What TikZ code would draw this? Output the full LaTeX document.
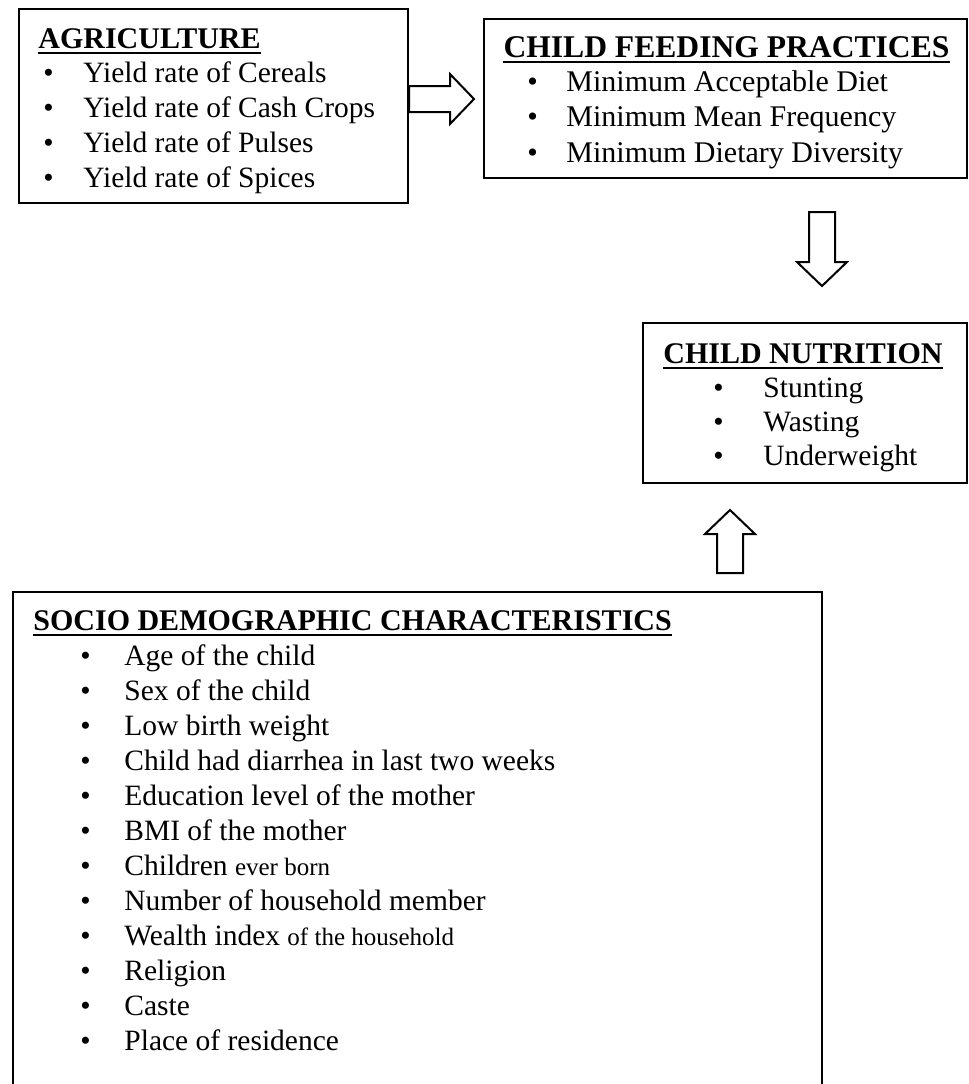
\documentclass[tikz,border=0pt]{standalone}
\usepackage{fontspec}
\setmainfont{Liberation Serif}
\usetikzlibrary{calc,positioning}

\tikzset{
  box/.style={draw, line width=1pt, inner sep=0pt},
  head/.style={inner sep=0pt, anchor=base, font=\fontsize{15}{18}\selectfont\bfseries},
  entry/.style={inner sep=0pt, anchor=base west, font=\fontsize{14.75}{18}\selectfont},
  uline/.style={line width=1pt},
  hollow/.style={draw, line width=1pt, fill=white, line join=miter}
}
\newcommand{\minor}[1]{{\fontsize{12.5}{15}\selectfont #1}}
% hollow block arrow from #1 to #2
\newcommand{\blockarrow}[2]{%
  \coordinate (hb) at ($(#2)!12pt!(#1)$);
  \draw[hollow] ($(#1)!6.5pt!90:(#2)$) -- ($(hb)!6.5pt!90:(#2)$) -- ($(hb)!12.5pt!90:(#2)$)
    -- (#2) -- ($(hb)!12.5pt!-90:(#2)$) -- ($(hb)!6.5pt!-90:(#2)$) -- ($(#1)!6.5pt!-90:(#2)$) -- cycle;
}

\begin{document}
\begin{tikzpicture}[x=0.5pt, y=-0.5pt]
  \useasboundingbox (0,0) rectangle (969,1084);

  % boxes
  \node[box, minimum width=194.5pt, minimum height=97pt] (agri) at (213.5,106) {};
  \node[box, minimum width=241.5pt, minimum height=79.5pt] (feed) at (725.5,98.5) {};
  \node[box, minimum width=162pt, minimum height=80pt] (nutr) at (805,403) {};
  \node[box, minimum width=404.5pt, minimum height=249pt] (socio) at (417.5,841) {};

  % agriculture
  \node[head, anchor=base west] (agrihd) at (38,48) {AGRICULTURE};
  \draw[uline] ([yshift=-2.5pt]agrihd.base west) -- ([yshift=-2.5pt]agrihd.base east);
  \foreach \t [count=\i] in {Yield rate of Cereals, Yield rate of Cash Crops, Yield rate of Pulses, Yield rate of Spices} {
    \node[entry] (agridot\i) at (43,47+35*\i) {\textbullet};
    \node[entry] (agri\i) at (83,47+35*\i) {\t};
  }

  % child feeding practices
  \node[head, font=\fontsize{15.8}{19}\selectfont\bfseries] (feedhd) at (726.5,57) {CHILD FEEDING PRACTICES};
  \draw[uline] ([yshift=-2.5pt]feedhd.base west) -- ([yshift=-2.5pt]feedhd.base east);
  \foreach \t [count=\i] in {Minimum Acceptable Diet, Minimum Mean Frequency, Minimum Dietary Diversity} {
    \node[entry, font=\fontsize{15}{18}\selectfont] (feeddot\i) at (527,55.5+35.5*\i) {\textbullet};
    \node[entry, font=\fontsize{15}{18}\selectfont] (feed\i) at (566,55.5+35.5*\i) {\t};
  }

  % child nutrition
  \node[head] (nutrhd) at (803,363) {CHILD NUTRITION};
  \draw[uline] ([yshift=-2.5pt]nutrhd.base west) -- ([yshift=-2.5pt]nutrhd.base east);
  \foreach \t [count=\i] in {Stunting, Wasting, Underweight} {
    \node[entry] (nutrdot\i) at (713,363+34*\i) {\textbullet};
    \node[entry] (nutr\i) at (763,363+34*\i) {\t};
  }

  % socio demographic characteristics
  \node[head, anchor=base west] (sociohd) at (33,630) {SOCIO DEMOGRAPHIC CHARACTERISTICS};
  \draw[uline] ([yshift=-2.5pt]sociohd.base west) -- ([yshift=-2.5pt]sociohd.base east);
  \foreach \t [count=\i] in {Age of the child, Sex of the child, Low birth weight,
      Child had diarrhea in last two weeks, Education level of the mother, BMI of the mother,
      Children \minor{ever born}, Number of household member, Wealth index \minor{of the household},
      Religion, Caste, Place of residence} {
    \node[entry] (sociodot\i) at (80,630+35*\i) {\textbullet};
    \node[entry] (socio\i) at (124,630+35*\i) {\t};
  }

  % arrows
  \coordinate (ra1) at ([yshift=3.5pt]agri.east);
  \coordinate (ra2) at ([xshift=32.5pt]ra1);
  \coordinate (da1) at (822,212);
  \coordinate (da2) at (822,286);
  \coordinate (ua1) at (730,573);
  \coordinate (ua2) at (730,510);
  \blockarrow{ra1}{ra2}
  \blockarrow{da1}{da2}
  \blockarrow{ua1}{ua2}
\end{tikzpicture}
\end{document}
